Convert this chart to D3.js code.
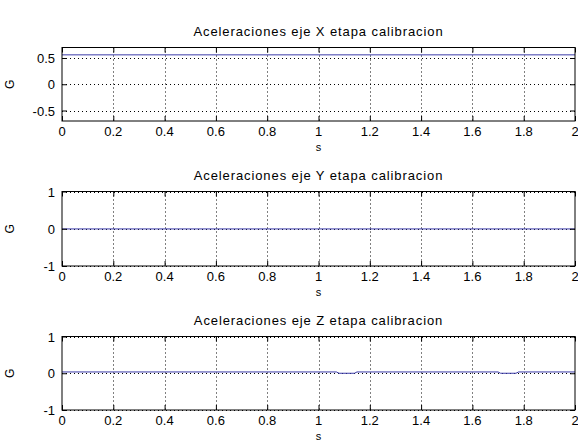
<!DOCTYPE html>
<html>
<head>
<meta charset="utf-8">
<script src="https://cdn.jsdelivr.net/npm/d3@7"></script>
<style>
  html, body { margin: 0; padding: 0; background: #ffffff; }
  svg { display: block; }
  text { font-family: "Liberation Sans", Arial, sans-serif; fill: #000; }
</style>
</head>
<body>
<svg id="chart" width="578" height="448"></svg>
<script>
// ---- data ----
const titles = [
  "Aceleraciones eje X etapa calibracion",
  "Aceleraciones eje Y etapa calibracion",
  "Aceleraciones eje Z etapa calibracion"
];
const xTicks = [0, 0.2, 0.4, 0.6, 0.8, 1, 1.2, 1.4, 1.6, 1.8, 2];
const xTickLabels = ["0", "0.2", "0.4", "0.6", "0.8", "1", "1.2", "1.4", "1.6", "1.8", "2"];
const yTicksX = [-0.5, 0, 0.5];
const yTickLabelsX = ["-0.5", "0", "0.5"];
const yTicksYZ = [-1, 0, 1];
const yTickLabelsYZ = ["-1", "0", "1"];

const timeX = [0, 2];
const accX = [0.56, 0.56];
const timeY = [0, 2];
const accY = [-0.005, -0.005];
const timeZ = [0, 1.07, 1.08, 1.14, 1.15, 1.70, 1.71, 1.77, 1.78, 2];
const accZ = [0.035, 0.035, 0.0, 0.0, 0.035, 0.035, 0.0, 0.0, 0.035, 0.035];

// ---- layout ----
const panels = [
  { top: 47.5, bottom: 121, yDomain: [-0.7, 0.7], yTicks: yTicksX, yLabels: yTickLabelsX, t: timeX, v: accX, title: titles[0] },
  { top: 191.5, bottom: 266, yDomain: [-1, 1], yTicks: yTicksYZ, yLabels: yTickLabelsYZ, t: timeY, v: accY, title: titles[1] },
  { top: 336.5, bottom: 410, yDomain: [-1, 1], yTicks: yTicksYZ, yLabels: yTickLabelsYZ, t: timeZ, v: accZ, title: titles[2] }
];
const left = 62, right = 575;
const tickLen = 5;
const svg = d3.select("#chart");

panels.forEach(p => {
  const x = d3.scaleLinear().domain([0, 2]).range([left, right]);
  const y = d3.scaleLinear().domain(p.yDomain).range([p.bottom, p.top]);
  const g = svg.append("g");

  g.append("rect").attr("x", left).attr("y", p.top)
    .attr("width", right - left).attr("height", p.bottom - p.top).attr("fill", "#fff");

  // grid
  g.selectAll(".vg").data(xTicks.slice(1, -1)).enter().append("line")
    .attr("x1", d => Math.round(x(d)) + 0.5).attr("x2", d => Math.round(x(d)) + 0.5)
    .attr("y1", p.top).attr("y2", p.bottom)
    .attr("stroke", "#000").attr("stroke-width", 1).attr("stroke-dasharray", "1,3");
  g.selectAll(".hg").data(p.yTicks).enter().append("line")
    .attr("x1", left).attr("x2", right)
    .attr("y1", d => Math.round(y(d)) + 0.5).attr("y2", d => Math.round(y(d)) + 0.5)
    .attr("stroke", "#000").attr("stroke-width", 1).attr("stroke-dasharray", "1,3");

  // data line
  const line = d3.line().x((d, i) => x(p.t[i])).y(d => y(d));
  g.append("path").datum(p.v).attr("d", line)
    .attr("fill", "none").attr("stroke", "#3a3aa8").attr("stroke-width", 1);

  // axes with inward ticks
  const xb = d3.axisBottom(x).tickValues(xTicks).tickSize(-tickLen).tickFormat(() => "");
  const xt = d3.axisTop(x).tickValues(xTicks).tickSize(-tickLen).tickFormat(() => "");
  const yl = d3.axisLeft(y).tickValues(p.yTicks).tickSize(-tickLen).tickFormat(() => "");
  const yr = d3.axisRight(y).tickValues(p.yTicks).tickSize(-tickLen).tickFormat(() => "");
  [[xb, `translate(0,${p.bottom})`], [xt, `translate(0,${p.top})`],
   [yl, `translate(${left},0)`], [yr, `translate(${right},0)`]].forEach(([ax, tr]) => {
    const a = g.append("g").attr("transform", tr).call(ax);
    a.select(".domain").remove();
    a.selectAll("line").attr("stroke", "#000");
  });

  g.append("rect").attr("x", left).attr("y", p.top)
    .attr("width", right - left).attr("height", p.bottom - p.top)
    .attr("fill", "none").attr("stroke", "#000").attr("stroke-width", 1);

  // tick labels
  g.selectAll(".xl").data(xTicks).enter().append("text")
    .attr("x", d => x(d)).attr("y", p.bottom + 15)
    .attr("text-anchor", "middle").attr("font-size", 13)
    .text((d, i) => xTickLabels[i]);
  g.selectAll(".yl").data(p.yTicks).enter().append("text")
    .attr("x", left - 7).attr("y", d => y(d) + 5)
    .attr("text-anchor", "end").attr("font-size", 13)
    .text((d, i) => p.yLabels[i]);

  // axis labels
  g.append("text").attr("x", x(1)).attr("y", p.bottom + 30)
    .attr("text-anchor", "middle").attr("font-size", 11).text("s");
  g.append("text")
    .attr("transform", `translate(14,${(p.top + p.bottom) / 2}) rotate(-90)`)
    .attr("text-anchor", "middle").attr("font-size", 12).text("G");

  // title
  g.append("text").attr("x", (left + right) / 2).attr("y", p.top - 12)
    .attr("text-anchor", "middle").attr("font-size", 13)
    .attr("letter-spacing", 0.9).text(p.title);
});
</script>
</body>
</html>
